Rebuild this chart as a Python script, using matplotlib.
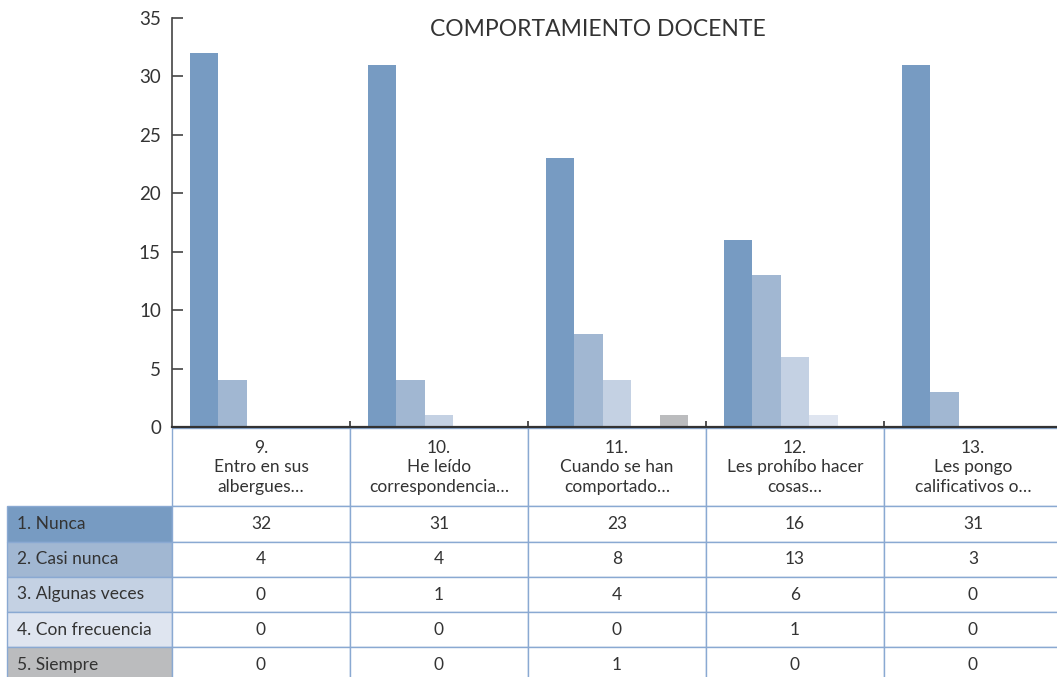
import matplotlib.pyplot as plt
from matplotlib.table import Table
import numpy as np

QUESTIONS = [
    "9.\nEntro en sus\nalbergues…",
    "10.\nHe leído\ncorrespondencia…",
    "11.\nCuando se han\ncomportado…",
    "12.\nLes prohíbo hacer\ncosas…",
    "13.\nLes pongo\ncalificativos o…",
]
SERIES = ["1. Nunca", "2. Casi nunca", "3. Algunas veces", "4. Con frecuencia", "5. Siempre"]
NUNCA = [32, 31, 23, 16, 31]
CASI_NUNCA = [4, 4, 8, 13, 3]
ALGUNAS = [0, 1, 4, 6, 0]
FRECUENCIA = [0, 0, 0, 1, 0]
SIEMPRE = [0, 0, 1, 0, 0]
Y_TICKS = [0, 5, 10, 15, 20, 25, 30, 35]

SERIES_COLORS = ["#779BC2", "#A1B7D2", "#C4D1E3", "#DFE5F0", "#BBBCBE"]
EDGE = "#8AA9D2"
TEXT = "#333333"

plt.rcParams["font.family"] = ["Lato", "DejaVu Sans"]

W, H = 1057, 677
fig = plt.figure(figsize=(W / 100, H / 100), dpi=100)

# axes extends slightly past the right edge, like the source
ax_left, ax_right = 172, 1062
ax_top, ax_zero = 18, 427
ax = fig.add_axes([ax_left / W, (H - ax_zero) / H, (ax_right - ax_left) / W, (ax_zero - ax_top) / H])

values = [NUNCA, CASI_NUNCA, ALGUNAS, FRECUENCIA, SIEMPRE]
x = np.arange(len(QUESTIONS))
bw = 0.16
for j, (vals, col) in enumerate(zip(values, SERIES_COLORS)):
    ax.bar(x + (j - 2) * bw, vals, width=bw, color=col, linewidth=0, zorder=2)

ax.set_xlim(-0.5, len(QUESTIONS) - 0.5)
ax.set_ylim(0, 35)
ax.set_yticks(Y_TICKS)
ax.set_xticks([])
ax.set_xticks(np.arange(len(QUESTIONS)) + 0.5, minor=True)
ax.tick_params(axis="x", which="minor", direction="in", length=4, width=1.2, color=TEXT)
ax.tick_params(axis="y", direction="in", length=8, width=1.2, color="#444444",
               labelsize=13.5, labelcolor=TEXT, pad=8)
for s in ["top", "right"]:
    ax.spines[s].set_visible(False)
ax.spines["left"].set_color("#444444")
ax.spines["left"].set_linewidth(1.2)
ax.spines["bottom"].set_color("#333333")
ax.spines["bottom"].set_linewidth(1.6)
ax.spines["bottom"].set_zorder(3)

fig.text(598 / W, 1 - 30 / H, "COMPORTAMIENTO DOCENTE", ha="center", va="center",
         fontsize=16.5, color=TEXT)

# data table under the plot; bbox covers only the data grid (header + values)
axw = ax_right - ax_left
axh = ax_zero - ax_top
label_w = (ax_left - 7) / axw
col_w = 1.0 / len(QUESTIONS)
head_h = 78 / axh
row_h = 35.2 / axh
total_h = head_h + row_h * len(SERIES)
top = -1.5 / axh
tb = Table(ax, bbox=[0, top - total_h, 1.0, total_h])
for c, q in enumerate(QUESTIONS):
    cell = tb.add_cell(0, c, width=col_w, height=head_h, text=q, loc="center",
                       facecolor="white", edgecolor=EDGE)
    cell.get_text().set_linespacing(1.3)
for r, name in enumerate(SERIES):
    cell = tb.add_cell(r + 1, -1, width=label_w, height=row_h, text=name, loc="left",
                       facecolor=SERIES_COLORS[r], edgecolor=EDGE)
    cell.PAD = 0.06
    for c in range(len(QUESTIONS)):
        tb.add_cell(r + 1, c, width=col_w, height=row_h, text=str(values[r][c]), loc="center",
                    facecolor="white", edgecolor=EDGE)
tb.auto_set_font_size(False)
tb.set_fontsize(12.5)
for cell in tb.get_celld().values():
    cell.get_text().set_color(TEXT)
    cell.set_linewidth(1.0)
ax.add_table(tb)

fig.savefig("out.png", dpi=100)
